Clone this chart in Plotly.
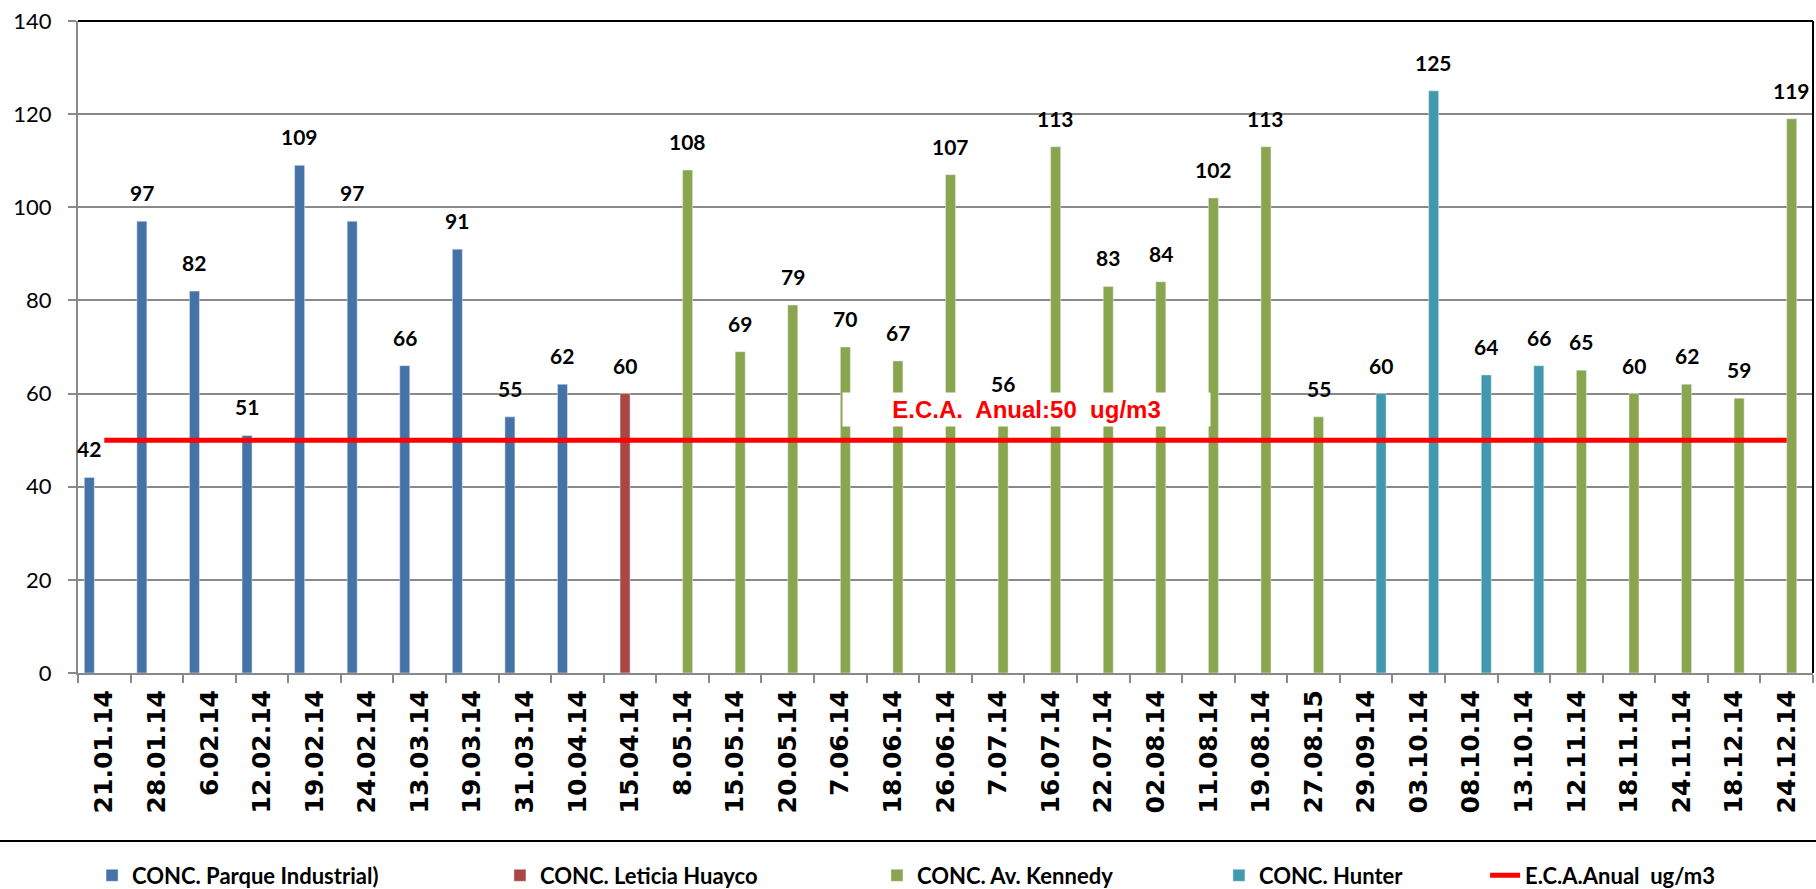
import plotly.graph_objects as go

categories = ["21.01.14", "28.01.14", "6.02.14", "12.02.14", "19.02.14", "24.02.14",
              "13.03.14", "19.03.14", "31.03.14", "10.04.14", "15.04.14", "8.05.14",
              "15.05.14", "20.05.14", "7.06.14", "18.06.14", "26.06.14", "7.07.14",
              "16.07.14", "22.07.14", "02.08.14", "11.08.14", "19.08.14", "27.08.15",
              "29.09.14", "03.10.14", "08.10.14", "13.10.14", "12.11.14", "18.11.14",
              "24.11.14", "18.12.14", "24.12.14"]

N = None
parque_industrial = [42, 97, 82, 51, 109, 97, 66, 91, 55, 62] + [N] * 23
leticia_huayco = [N] * 10 + [60] + [N] * 22
av_kennedy = ([N] * 11 + [108, 69, 79, 70, 67, 107, 56, 113, 83, 84, 102, 113, 55]
              + [N] * 4 + [65, 60, 62, 59, 119])
hunter = [N] * 24 + [60, 125, 64, 66] + [N] * 5
eca_anual = [50] * 33

series = [
    ("CONC. Parque Industrial)", parque_industrial, "#4572A7"),
    ("CONC. Leticia Huayco", leticia_huayco, "#AA4643"),
    ("CONC. Av. Kennedy", av_kennedy, "#89A54E"),
    ("CONC. Hunter", hunter, "#4198AF"),
]
legend_ids = ["legend", "legend2", "legend3", "legend4", "legend5"]
legend_x = [0.0081, 0.2432, 0.4605, 0.6576, 0.8110]

BAR_W = 0.19
SLOT0 = -0.38

fig = go.Figure()
annotations = []
for i, (name, vals, color) in enumerate(series):
    fig.add_trace(go.Bar(
        x=categories, y=vals, name=name, marker_color=color,
        width=BAR_W, offset=SLOT0 + i * BAR_W, hoverinfo="x+y",
        legend=legend_ids[i],
    ))

fig.add_trace(go.Scatter(
    x=categories, y=eca_anual, mode="lines", name="E.C.A.Anual\u00a0 ug/m3",
    line=dict(color="#FF0000", width=5), legend=legend_ids[4],
))

# E.C.A. label box
annotations.append(dict(
    x=17.55, y=56.6, xref="x", yref="y",
    text="E.C.A.\u00a0 Anual:50\u00a0 ug/m3", showarrow=False,
    bgcolor="white", width=365, height=31,
    font=dict(family="Liberation Sans", size=24, color="#FF0000", weight="bold"),
))

# value labels
for i, (name, vals, color) in enumerate(series):
    for idx, v in enumerate(vals):
        if v is None:
            continue
        annotations.append(dict(
            x=idx + SLOT0 + (i + 0.5) * BAR_W, y=v, xref="x", yref="y",
            text=str(v), showarrow=False, yanchor="bottom", yshift=14,
            font=dict(family="Lato", size=21, color="black", weight="bold"),
        ))

shapes = [
    dict(type="line", xref="paper", yref="paper", x0=0, x1=1, y0=1, y1=1,
         line=dict(color="black", width=2)),
    dict(type="line", xref="paper", yref="paper", x0=1, x1=1, y0=0, y1=1,
         line=dict(color="black", width=2)),
    dict(type="line", xref="paper", yref="paper", x0=-0.046, x1=1.002,
         y0=-0.2577, y1=-0.2577, line=dict(color="black", width=2)),
]

legend_common = dict(
    orientation="h", xanchor="left", y=-0.3106, yanchor="middle",
    font=dict(family="Lato", size=22, color="black", weight="bold"),
    bgcolor="rgba(0,0,0,0)",
)
legends = {lid: dict(legend_common, x=lx) for lid, lx in zip(legend_ids, legend_x)}

fig.update_layout(
    width=1816, height=889,
    margin=dict(l=78, r=3, t=21, b=216, autoexpand=False),
    paper_bgcolor="white", plot_bgcolor="white",
    barmode="overlay",
    showlegend=True,
    annotations=annotations,
    shapes=shapes,
    xaxis=dict(
        type="category", categoryorder="array", categoryarray=categories,
        tickangle=-90, tickson="boundaries", ticks="outside", ticklen=8,
        tickcolor="#898989", tickwidth=2,
        showline=True, linecolor="#898989", linewidth=2, showgrid=False,
        tickfont=dict(family="DejaVu Sans", size=25, color="black", weight="bold"),
        range=[-0.5, 32.5], automargin=False, ticklabelstandoff=5,
    ),
    yaxis=dict(
        range=[0, 140], dtick=20, tick0=0, ticks="outside", ticklen=8,
        tickcolor="#898989", tickwidth=2,
        showline=True, linecolor="#898989", linewidth=2,
        showgrid=True, gridcolor="#898989", gridwidth=1.5,
        tickfont=dict(family="Lato", size=22, color="black"),
        ticklabelstandoff=12, zeroline=False, automargin=False,
    ),
    **legends,
)

fig.write_html("out.html", config={"displayModeBar": False},
               post_script="document.body.style.margin='0';")
